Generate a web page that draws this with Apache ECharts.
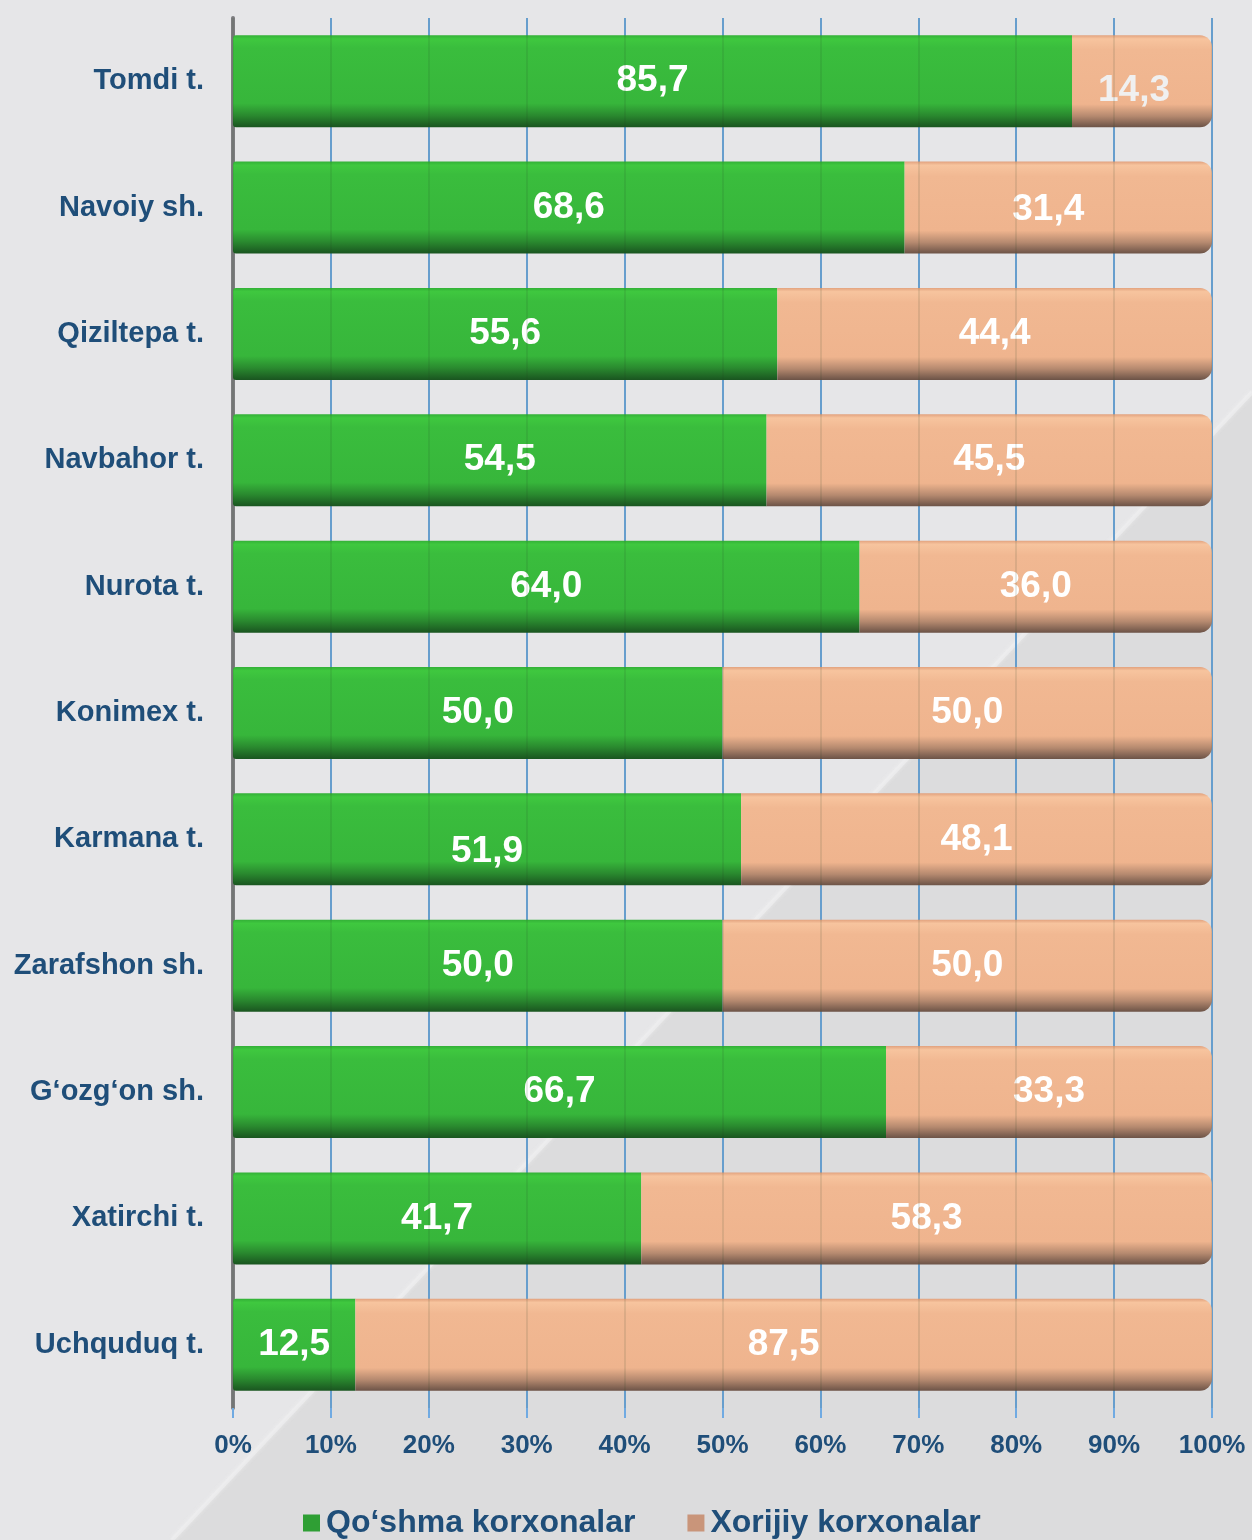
<!DOCTYPE html>
<html>
<head>
<meta charset="utf-8">
<style>
  html, body { margin: 0; padding: 0; background: #e6e6e8; }
  #chart { width: 1252px; height: 1540px; }
</style>
<script src="https://cdn.jsdelivr.net/npm/echarts@6/dist/echarts.min.js"></script>
</head>
<body>
<div id="chart"></div>
<script>
// Districts, top to bottom
const categories = [
  'Tomdi t.', 'Navoiy sh.', 'Qiziltepa t.', 'Navbahor t.', 'Nurota t.',
  'Konimex t.', 'Karmana t.', 'Zarafshon sh.', 'G‘ozg‘on sh.', 'Xatirchi t.', 'Uchquduq t.'
];
// Share of joint ventures, %
const jointShare = [85.7, 68.6, 55.6, 54.5, 64.0, 50.0, 51.9, 50.0, 66.7, 41.7, 12.5];
// Share of foreign enterprises, %
const foreignShare = [14.3, 31.4, 44.4, 45.5, 36.0, 50.0, 48.1, 50.0, 33.3, 58.3, 87.5];
const seriesNames = ['Qo‘shma korxonalar', 'Xorijiy korxonalar'];

const FONT = '"Liberation Sans", Arial, sans-serif';
const TEXT_BLUE = '#1f4e79';

const chart = echarts.init(document.getElementById('chart'), null, { renderer: 'canvas' });

const grad = (stops) => new echarts.graphic.LinearGradient(0, 0, 0, 1,
  stops.map(([offset, color]) => ({ offset, color })));

const greenFill = grad([
  [0, '#33b037'], [0.04, '#3fc83f'], [0.14, '#3abd3d'], [0.74, '#37b63b'],
  [0.87, '#2a8a2f'], [1, '#1a5520']
]);
const peachFill = grad([
  [0, '#e2a27e'], [0.04, '#f7c49e'], [0.16, '#f1b892'], [0.75, '#efb48e'],
  [0.88, '#b5896f'], [1, '#6c5347']
]);

const valueLabel = (p) => p.value.toFixed(1).replace('.', ',');

// a few labels sit slightly off-centre
const labelShift = {
  '1:0': [-8, 10], '1:1': [-10, 2], '0:6': [0, 12]
};
const withLabels = (values, seriesIdx) => values.map((v, i) => {
  const shift = labelShift[seriesIdx + ':' + i];
  const item = { value: v };
  if (shift) item.label = { offset: shift };
  if (seriesIdx === 1 && i === 0) item.label = Object.assign(item.label || {}, { color: '#f0f0f0' });
  return item;
});

const option = {
  backgroundColor: '#e6e6e8',
  animation: false,
  graphic: [
    {
      type: 'polygon', z: -100, silent: true,
      shape: { points: [[1252, 392], [1252, 1540], [172, 1540]] },
      style: { fill: '#dcdcdd' }
    },
    {
      type: 'polyline', z: -99, silent: true,
      shape: { points: [[1252, 392], [172, 1540]] },
      style: { stroke: 'rgba(238,238,240,0.7)', lineWidth: 4, shadowBlur: 4, shadowColor: 'rgba(245,245,245,0.8)' }
    }
  ],
  grid: {
    left: 233, top: 18, width: 979, height: 1390,
    containLabel: false
  },
  legend: {
    left: 298, top: 1502,
    itemWidth: 17, itemHeight: 17, itemGap: 52,
    textStyle: { fontFamily: FONT, fontWeight: 'bold', fontSize: 32, color: TEXT_BLUE, padding: [2, 0, 0, 1] },
    data: [
      { name: seriesNames[0], icon: 'rect', itemStyle: { color: '#2f9f34' } },
      { name: seriesNames[1], icon: 'rect', itemStyle: { color: '#c9957a' } }
    ]
  },
  xAxis: [
    {
      type: 'value', min: 0, max: 100, interval: 10,
      axisLine: { show: false },
      axisTick: { show: true, length: 10, lineStyle: { color: '#70aae2', width: 2 } },
      splitLine: { show: true, lineStyle: { color: '#70aae2', width: 2 } },
      axisLabel: {
        margin: 25, fontFamily: FONT, fontWeight: 'bold', fontSize: 26, color: TEXT_BLUE,
        formatter: (v) => v + '%'
      }
    },
    {
      // faint grid shadow showing through the bars
      type: 'value', min: 0, max: 100, interval: 10, position: 'top', z: 5,
      axisLine: { show: false }, axisTick: { show: false }, axisLabel: { show: false },
      splitLine: { show: true, lineStyle: { color: 'rgba(40,60,40,0.11)', width: 2 } }
    }
  ],
  yAxis: {
    type: 'category', inverse: true, data: categories,
    axisLine: { show: true, lineStyle: { color: '#7d7d7f', width: 4 } },
    axisTick: { show: false },
    axisLabel: {
      margin: 29, fontFamily: FONT, fontWeight: 'bold', fontSize: 29, color: TEXT_BLUE,
      padding: [0, 0, 12, 0]
    }
  },
  series: [
    {
      name: seriesNames[0], type: 'bar', stack: 'total', barWidth: 92,
      data: withLabels(jointShare, 0),
      itemStyle: { color: greenFill, borderRadius: [3, 0, 0, 3] },
      label: {
        show: true, position: 'inside', formatter: valueLabel,
        fontFamily: FONT, fontWeight: 'bold', fontSize: 37, color: '#ffffff'
      }
    },
    {
      name: seriesNames[1], type: 'bar', stack: 'total', barWidth: 92,
      data: withLabels(foreignShare, 1),
      itemStyle: { color: peachFill, borderRadius: [0, 12, 12, 0] },
      label: {
        show: true, position: 'inside', formatter: valueLabel,
        fontFamily: FONT, fontWeight: 'bold', fontSize: 37, color: '#ffffff'
      }
    }
  ]
};

chart.setOption(option);
</script>
</body>
</html>
